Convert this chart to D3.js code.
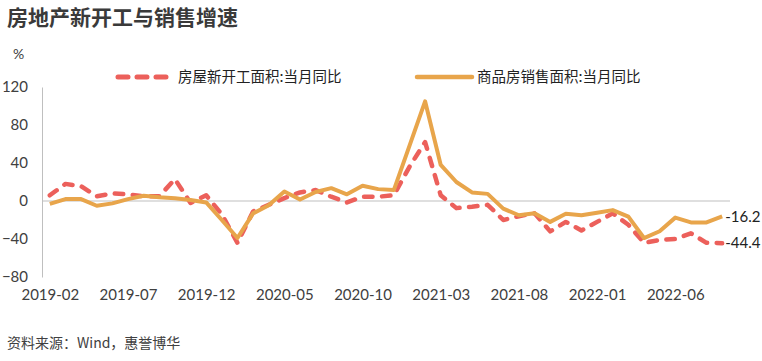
<!DOCTYPE html>
<html>
<head>
<meta charset="utf-8">
<script src="https://cdn.jsdelivr.net/npm/d3@7"></script>
<style>
  html, body { margin: 0; padding: 0; background: #fff; }
  svg { display: block; }
  .cjk { font-family: "Noto Sans CJK SC", "Noto Sans", sans-serif; }
  .num { font-family: Lato, "Noto Sans", sans-serif; }
</style>
</head>
<body>
<div id="chart"></div>
<script>
// ---- data ----
const months = [
  '2019-02','2019-03','2019-04','2019-05','2019-06','2019-07','2019-08','2019-09','2019-10','2019-11','2019-12',
  '2020-01','2020-02','2020-03','2020-04','2020-05','2020-06','2020-07','2020-08','2020-09','2020-10','2020-11','2020-12',
  '2021-01','2021-02','2021-03','2021-04','2021-05','2021-06','2021-07','2021-08','2021-09','2021-10','2021-11','2021-12',
  '2022-01','2022-02','2022-03','2022-04','2022-05','2022-06','2022-07','2022-08','2022-09'
];
const xTickLabels = ['2019-02','2019-07','2019-12','2020-05','2020-10','2021-03','2021-08','2022-01','2022-06'];
const yTicks = [-80, -40, 0, 40, 80, 120];

// 房屋新开工面积:当月同比
const newStarts = [
  6, 18, 15.5, 5, 8, 7, 5, 5, 23, -2, 6,
  -14, -44, -11, -4, 3, 9, 11.5, 4.5, -1.5, 4.5, 4.5, 6,
  36, 62, 6, -7.5, -6, -4, -20, -16, -13, -32, -22, -31,
  -22, -13, -25, -44, -41, -40, -34, -44, -44.4
];
// 商品房销售面积:当月同比
const sales = [
  -3, 2, 2, -5, -2.5, 2, 5.5, 4, 3, 1, -1.5,
  -20, -39, -13, -4.5, 10, 1.5, 9.5, 13.5, 7, 16, 12.5, 11.5,
  58, 104.9, 38, 20, 9, 7.5, -8, -15, -13, -22, -13.5, -15,
  -12.3, -9.6, -16.5, -39, -31.8, -17.5, -22.5, -22.5, -16.2
];

const series = [
  { name: '房屋新开工面积:当月同比', values: newStarts, color: '#EC605B', dash: '8.5,9.5', width: 4.5 },
  { name: '商品房销售面积:当月同比', values: sales, color: '#E8A54B', dash: null, width: 4 }
];

// ---- layout ----
const width = 762, height = 361;
const plot = { left: 42, right: 730, top: 87, bottom: 277 };
const textColor = '#404040';
const axisColor = '#BFBFBF';

const svg = d3.select('#chart').append('svg')
  .attr('width', width)
  .attr('height', height);

const x = d3.scalePoint()
  .domain(months)
  .range([plot.left, plot.right])
  .padding(0.5);

const y = d3.scaleLinear()
  .domain([-80, 120])
  .range([plot.bottom, plot.top]);

// Title
svg.append('text')
  .attr('class', 'cjk')
  .attr('x', 7)
  .attr('y', 25)
  .attr('font-size', 21)
  .attr('font-weight', 'bold')
  .attr('fill', '#3a3a3a')
  .text('房地产新开工与销售增速');

// Unit
svg.append('text')
  .attr('class', 'num')
  .attr('x', 13)
  .attr('y', 59)
  .attr('font-size', 14)
  .attr('fill', textColor)
  .text('%');

// Y axis (labels only + vertical line)
const yAxis = d3.axisLeft(y).tickValues(yTicks).tickSize(0).tickPadding(14);
const yg = svg.append('g')
  .attr('transform', `translate(${plot.left},0)`)
  .call(yAxis);
yg.select('.domain').attr('stroke', axisColor).attr('stroke-width', 1);
yg.selectAll('text')
  .attr('class', 'num')
  .attr('font-size', 15)
  .attr('fill', textColor);

// Zero line
svg.append('line')
  .attr('x1', plot.left).attr('x2', plot.right)
  .attr('y1', y(0)).attr('y2', y(0))
  .attr('stroke', axisColor)
  .attr('stroke-width', 1);

// X axis labels
const xAxis = d3.axisBottom(x).tickValues(xTickLabels).tickSize(0).tickPadding(12);
const xg = svg.append('g')
  .attr('transform', `translate(0,${plot.bottom})`)
  .call(xAxis);
xg.select('.domain').remove();
xg.selectAll('text')
  .attr('class', 'num')
  .attr('font-size', 15)
  .attr('fill', textColor);

// Lines
const line = d3.line()
  .x((d, i) => x(months[i]))
  .y(d => y(d));

series.forEach(s => {
  svg.append('path')
    .datum(s.values)
    .attr('fill', 'none')
    .attr('stroke', s.color)
    .attr('stroke-width', s.width)
    .attr('stroke-linejoin', 'round')
    .attr('stroke-linecap', s.dash ? 'round' : 'butt')
    .attr('stroke-dasharray', s.dash)
    .attr('d', line);

  // end value label
  const last = s.values[s.values.length - 1];
  svg.append('text')
    .attr('class', 'num')
    .attr('x', x(months[months.length - 1]) + 3)
    .attr('y', y(last))
    .attr('dy', '0.35em')
    .attr('font-size', 15)
    .attr('fill', '#222')
    .text(last.toFixed(1));
});

// Legend
const legendItems = [
  { s: series[0], x1: 118, x2: 171, tx: 178 },
  { s: series[1], x1: 417, x2: 472, tx: 477 }
];
legendItems.forEach(d => {
  svg.append('line')
    .attr('x1', d.x1).attr('x2', d.x2)
    .attr('y1', 77).attr('y2', 77)
    .attr('stroke', d.s.color)
    .attr('stroke-width', d.s.dash ? 5 : 4.5)
    .attr('stroke-linecap', 'round')
    .attr('stroke-dasharray', d.s.dash ? '10,9' : null);
  svg.append('text')
    .attr('class', 'cjk')
    .attr('x', d.tx)
    .attr('y', 77)
    .attr('dy', '0.35em')
    .attr('font-size', 14.5)
    .attr('fill', '#222')
    .text(d.s.name);
});

// Source
svg.append('text')
  .attr('class', 'cjk')
  .attr('x', 7)
  .attr('y', 348)
  .attr('font-size', 14)
  .attr('fill', textColor)
  .text('资料来源：Wind，惠誉博华');
</script>
</body>
</html>
